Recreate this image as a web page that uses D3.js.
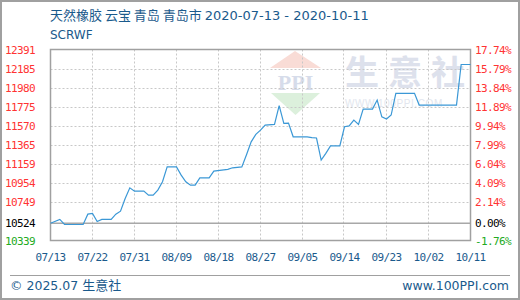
<!DOCTYPE html>
<html>
<head>
<meta charset="utf-8">
<script src="https://cdn.jsdelivr.net/npm/d3@7"></script>
<style>
  body { margin: 0; background: #fff; }
  svg text { font-family: "DejaVu Sans Mono", monospace; }
</style>
</head>
<body>
<div id="chart"></div>
<script>
// price series: day offset from 2020-07-13 and price (yuan/ton)
const dayOffsets = [0, 2, 3, 7, 8, 9, 10, 11, 13, 14, 15, 16, 17, 18, 20, 21, 22, 23, 24, 25,
  27, 28, 29, 30, 31, 32, 34, 35, 38, 39, 41, 42, 43, 44, 45, 46, 48, 49, 50, 51,
  52, 55, 56, 57, 58, 59, 60, 62, 63, 64, 65, 66, 67, 69, 70, 71, 72, 73, 74, 78,
  79, 87, 88, 90];
const prices = [10524, 10565, 10511, 10511, 10622, 10629, 10543, 10565, 10565, 10622, 10654, 10790, 10905, 10869, 10869, 10826, 10826, 10880, 10970, 11130,
  11130, 11041, 10970, 10934, 10934, 11012, 11012, 11084, 11103, 11120, 11130, 11260, 11399, 11479, 11525, 11579, 11587, 11787, 11597, 11600,
  11453, 11453, 11445, 11440, 11203, 11275, 11356, 11356, 11561, 11570, 11633, 11587, 11751, 11751, 11848, 11668, 11644, 11687, 11920, 11920,
  11794, 11794, 12230, 12230];

const yTicks = [12391, 12185, 11980, 11775, 11570, 11365, 11159, 10954, 10749, 10524, 10339];
const pctLabels = ['17.74%', '15.79%', '13.84%', '11.89%', '9.94%', '7.99%', '6.04%', '4.09%', '2.14%', '0.00%', '-1.76%'];
const xTickLabels = ['07/13', '07/22', '07/31', '08/09', '08/18', '08/27', '09/05', '09/14', '09/23', '10/02', '10/11'];
const baseValue = 10524;

const W = 520, H = 300;
const startDate = new Date(2020, 6, 13);
const endDate = new Date(2020, 9, 11);
const dayMs = 86400000;

const data = dayOffsets.map((d, i) => ({
  date: new Date(startDate.getTime() + d * dayMs),
  value: prices[i]
}));
const xTickDates = xTickLabels.map((_, i) => new Date(startDate.getTime() + i * 9 * dayMs));

const svg = d3.select('#chart').append('svg')
  .attr('width', W)
  .attr('height', H);

// frame
svg.append('rect')
  .attr('x', 1).attr('y', 1)
  .attr('width', W - 2).attr('height', H - 2)
  .attr('fill', '#fff')
  .attr('stroke', '#a0a0a0')
  .attr('stroke-width', 2);

const x = d3.scaleTime().domain([startDate, endDate]).range([50.5, 470.5]);
const y = d3.scaleLinear().domain([10339, 12391]).range([240.5, 49.5]);

// watermark
const wm = svg.append('g').attr('class', 'watermark');
wm.append('path')
  .attr('d', 'M295,51 L321,68 L270,68 Z')
  .attr('fill', '#f9dcd6');
wm.append('path')
  .attr('d', 'M271,93 L320,93 L295.5,115 Z')
  .attr('fill', '#dcf0dc');
wm.append('text')
  .attr('x', 295.5).attr('y', 90)
  .attr('text-anchor', 'middle')
  .style('font-family', '"Liberation Serif", serif')
  .style('font-weight', 'bold')
  .style('font-size', '22px')
  .attr('fill', '#d6dcea')
  .text('PPI');
wm.append('text')
  .attr('x', 345).attr('y', 85)
  .style('font-family', '"Noto Sans CJK SC", sans-serif')
  .style('font-weight', 'bold')
  .style('font-size', '34px')
  .style('letter-spacing', '9px')
  .attr('fill', '#dde1ec')
  .text('生意社');
wm.append('text')
  .attr('x', 345).attr('y', 107)
  .style('font-family', 'Arial, "Liberation Sans", sans-serif')
  .style('font-size', '10px')
  .style('letter-spacing', '0.6px')
  .attr('fill', '#e2e6ee')
  .text('WWW.100PPI.COM');

// grid
const grid = svg.append('g').attr('class', 'grid');
grid.selectAll('line.h')
  .data(yTicks.filter(v => v !== baseValue && v !== 10339 && v !== 12391))
  .enter().append('line')
  .attr('class', 'h')
  .attr('x1', 50.5).attr('x2', 470.5)
  .attr('y1', d => Math.round(y(d)) + 0.5)
  .attr('y2', d => Math.round(y(d)) + 0.5)
  .attr('stroke', '#c8c8c8')
  .attr('stroke-dasharray', '2,2');
grid.selectAll('line.v')
  .data(xTickDates.slice(1, -1))
  .enter().append('line')
  .attr('class', 'v')
  .attr('y1', 49.5).attr('y2', 240.5)
  .attr('x1', d => Math.round(x(d)) - 0.5)
  .attr('x2', d => Math.round(x(d)) - 0.5)
  .attr('stroke', '#c8c8c8')
  .attr('stroke-dasharray', '2,2');

// base line
svg.append('line')
  .attr('x1', 50.5).attr('x2', 470.5)
  .attr('y1', y(baseValue)).attr('y2', y(baseValue))
  .attr('stroke', '#a8a8a8')
  .attr('stroke-width', 1.5);

// plot border
svg.append('rect')
  .attr('x', 50.5).attr('y', 49.5)
  .attr('width', 420).attr('height', 191)
  .attr('fill', 'none')
  .attr('stroke', '#a0a0a0')
  .attr('stroke-width', 1.5);

// price line
const line = d3.line()
  .x(d => x(d.date))
  .y(d => y(d.value));
svg.append('path')
  .datum(data)
  .attr('fill', 'none')
  .attr('stroke', '#3b98d6')
  .attr('stroke-width', 1.2)
  .attr('d', line);

function tickColor(v) {
  if (v > baseValue) return '#ff3333';
  if (v < baseValue) return '#22aa22';
  return '#000';
}

// left axis labels
svg.append('g').selectAll('text')
  .data(yTicks)
  .enter().append('text')
  .attr('x', 35)
  .attr('y', d => y(d) + 4)
  .attr('text-anchor', 'end')
  .style('font-size', '11px')
  .style('letter-spacing', '-0.6px')
  .attr('fill', tickColor)
  .text(d => d);

// right axis labels
svg.append('g').selectAll('text')
  .data(yTicks)
  .enter().append('text')
  .attr('x', 475)
  .attr('y', d => y(d) + 4)
  .style('font-size', '11px')
  .style('letter-spacing', '-0.6px')
  .attr('fill', tickColor)
  .text((d, i) => pctLabels[i]);

// x axis labels
svg.append('g').selectAll('text')
  .data(xTickDates)
  .enter().append('text')
  .attr('x', d => x(d))
  .attr('y', 261)
  .attr('text-anchor', 'middle')
  .style('font-size', '11px')
  .style('letter-spacing', '-0.6px')
  .attr('fill', '#1a5a8c')
  .text((d, i) => xTickLabels[i]);

// title
const latin = '"DejaVu Sans", sans-serif';
const cjk = '"Noto Sans CJK SC", sans-serif';
const title = svg.append('text')
  .attr('x', 50).attr('y', 20)
  .style('font-size', '13px')
  .attr('fill', '#1a5a8c');
title.append('tspan').style('font-family', cjk).text('天然橡胶 云宝 青岛 青岛市 ');
title.append('tspan').style('font-family', latin).style('font-size', '13px')
  .text('2020-07-13 - 2020-10-11');
svg.append('text')
  .attr('x', 50).attr('y', 39)
  .style('font-family', latin)
  .style('font-size', '12px')
  .attr('fill', '#1a5a8c')
  .text('SCRWF');

// footer
svg.append('line')
  .attr('x1', 10).attr('x2', 510)
  .attr('y1', 275.5).attr('y2', 275.5)
  .attr('stroke', '#a0a0a0');
const foot = svg.append('text')
  .attr('x', 10).attr('y', 290)
  .style('font-size', '12.5px')
  .attr('fill', '#1a5a8c');
foot.append('tspan').style('font-family', latin).text('© 2025.07 ');
foot.append('tspan').style('font-family', cjk).style('font-size', '13px').text('生意社');
svg.append('text')
  .attr('x', 509).attr('y', 290)
  .attr('text-anchor', 'end')
  .style('font-family', latin)
  .style('font-size', '12.5px')
  .attr('fill', '#1a5a8c')
  .text('www.100PPI.com');
</script>
</body>
</html>
